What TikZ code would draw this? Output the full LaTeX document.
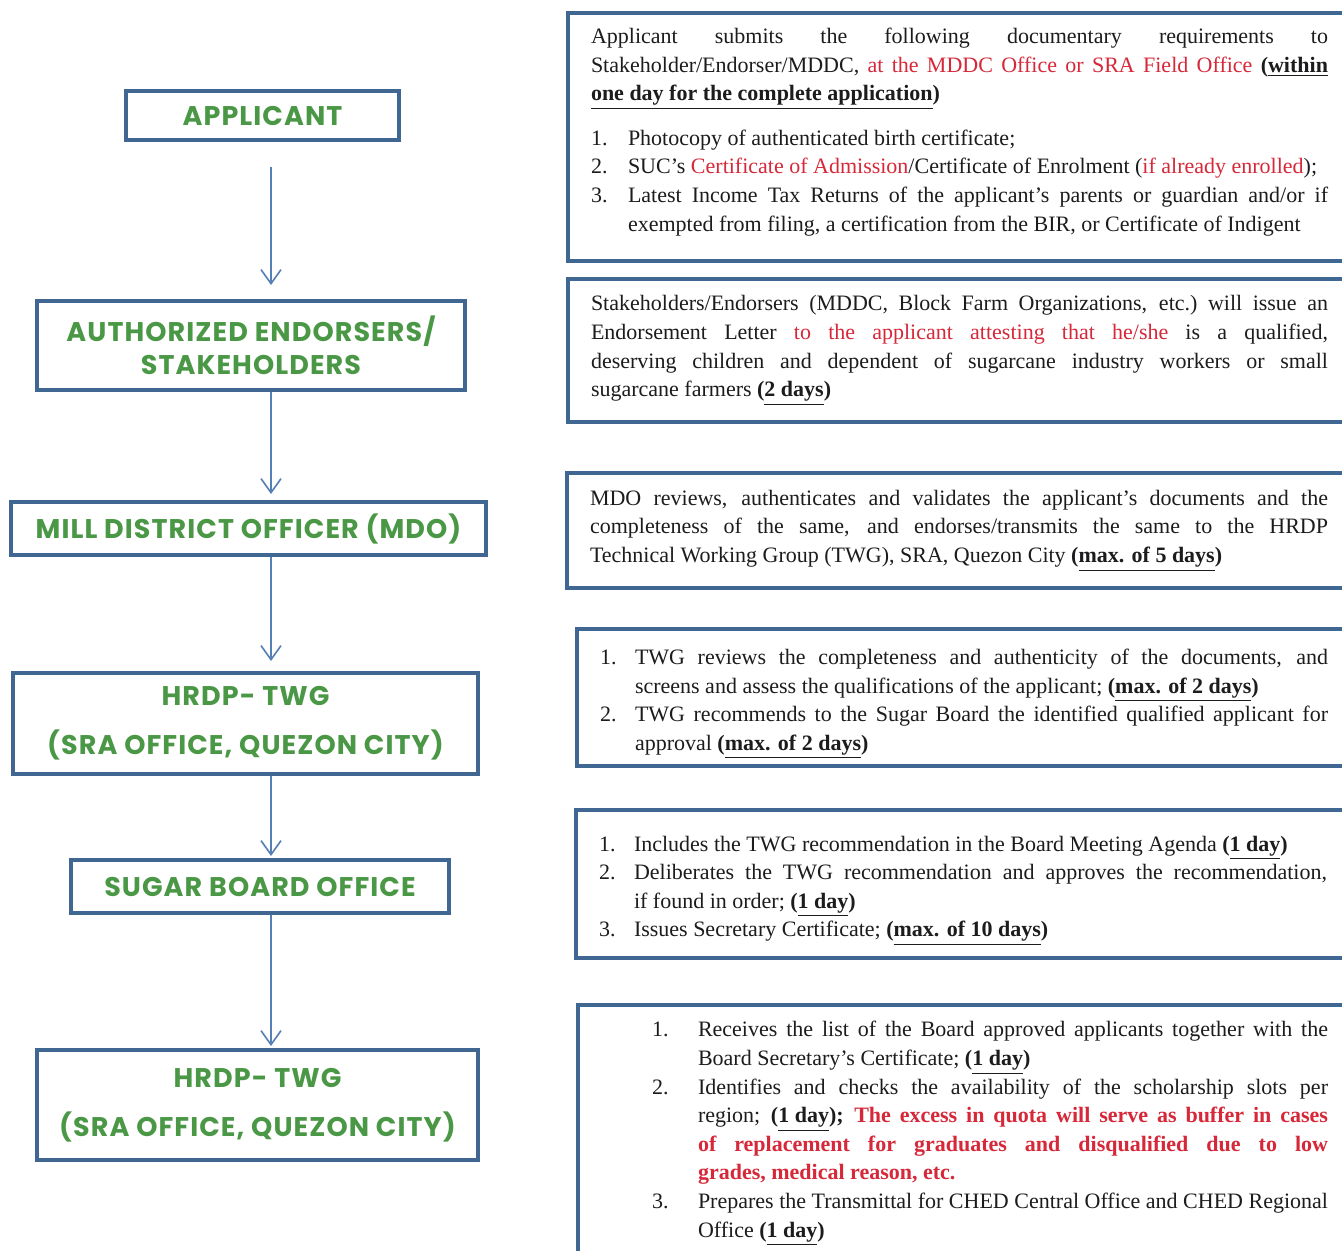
\documentclass[tikz,border=0pt]{standalone}
\usepackage{fontspec}
\usepackage{enumitem}
\setmainfont{Liberation Serif}
\newfontfamily\boxfont[LetterSpace=4]{Poppins}
\usetikzlibrary{arrows.meta, positioning, calc}
\definecolor{FrameBlue}{RGB}{ 63, 103, 145}
\definecolor{BoxGreen} {RGB}{ 74, 152,  70}
\definecolor{ArrowBlue}{RGB}{ 84, 128, 182}
\definecolor{NoteRed}  {RGB}{214,  40,  57}
\definecolor{InkBlack} {RGB}{ 28,  28,  30}
\setlist[enumerate]{label=\arabic*., align=left, labelsep=0pt,
  itemsep=0pt, parsep=0pt, topsep=0pt, partopsep=0pt}
\newcommand{\redtxt}[1]{\textcolor{NoteRed}{#1}}
\newcommand{\ulwords}[1]{\underline{#1}}
\newcommand{\due}[1]{\textbf{(\ulwords{#1})}}
\tikzset{
  % Office box in the left column
  office/.style={
    rectangle, draw=FrameBlue, line width=2pt, fill=white,
    font=\boxfont\bfseries\fontsize{13.5}{16.5}\selectfont, text=BoxGreen,
    align=center, inner sep=2pt
  },
  % Description panel in the right column
  notebox/.style={
    rectangle, draw=FrameBlue, line width=2pt, fill=white,
    anchor=north west, align=justify, text=InkBlack,
    font=\fontsize{11}{14.3}\selectfont,
    inner xsep=11.5pt, inner ysep=0pt, text width=#1
  },
  notebox/.default=368.5pt,
  % Flow arrows between offices
  flowarrow/.style={
    -{Straight Barb[length=7pt, width=10pt]}, line width=0.8pt, color=ArrowBlue
  }
}
\begin{document}
\begin{tikzpicture}[x=0.5pt, y=-0.5pt]
  \useasboundingbox[fill=white] (0,0) rectangle (1342,1251);

  % ── LEFT COLUMN: offices ───────────────────────────────────────────
  \node[office, minimum width=136.5pt, minimum height=24.5pt] (applicant)
        at (262.5,115.5) {APPLICANT};
  \node[office, minimum width=214pt, minimum height=44.5pt] (endorsers)
        at (251,345.5) {AUTHORIZED ENDORSERS/\\STAKEHOLDERS};
  \node[office, minimum width=237.5pt, minimum height=26.5pt] (mdo)
        at (248.5,528.5) {MILL DISTRICT OFFICER (MDO)};
  \node[office, minimum width=232.5pt, minimum height=50.5pt] (twg_a)
        at (245.5,723.5) {HRDP- TWG\\[8pt](SRA OFFICE, QUEZON CITY)};
  \node[office, minimum width=189pt, minimum height=26.5pt] (board)
        at (260,886.5) {SUGAR BOARD OFFICE};
  \node[office, minimum width=220.5pt, minimum height=55pt] (twg_b)
        at (257.5,1105) {HRDP- TWG\\[8pt](SRA OFFICE, QUEZON CITY)};

  % ── ARROWS ─────────────────────────────────────────────────────────
  \coordinate (spine) at (271,0);
  \draw[flowarrow, shorten <=12.5pt, shorten >=7pt]
        (applicant.south -| spine) -- (endorsers.north -| spine);
  \draw[flowarrow, shorten >=3pt] (endorsers.south -| spine) -- (mdo.north -| spine);
  \draw[flowarrow, shorten >=5pt] (mdo.south -| spine) -- (twg_a.north -| spine);
  \draw[flowarrow, shorten >=1pt] (twg_a.south -| spine) -- (board.north -| spine);
  \draw[flowarrow, shorten >=1pt] (board.south -| spine) -- (twg_b.north -| spine);

  % ── RIGHT COLUMN: what each office does ────────────────────────────
  \node[notebox, minimum height=124pt] (note_applicant) at (566,11) {%
    Applicant submits the following documentary requirements to\linebreak
    Stakeholder/Endorser/MDDC, \redtxt{at the MDDC Office or SRA Field Office}
    \textbf{(\ulwords{within}}\linebreak
    \textbf{\ulwords{one day for the complete application})}
    \begin{enumerate}[leftmargin=18.5pt, labelwidth=18.5pt, topsep=8pt]
      \item Photocopy of authenticated birth certificate;
      \item SUC’s \redtxt{Certificate of Admission}/Certificate of Enrolment
            (\redtxt{if already enrolled});
      \item Latest Income Tax Returns of the applicant’s parents or guardian and/or if\linebreak
            exempted from filing, a certification from the BIR, or Certificate of Indigent
    \end{enumerate}\par\vspace{-3pt}};

  \node[notebox, minimum height=71.5pt] (note_endorsers) at (566,277) {%
    Stakeholders/Endorsers (MDDC, Block Farm Organizations, etc.)\ will issue an\linebreak
    Endorsement Letter \redtxt{to the applicant attesting that he/she} is a qualified,\linebreak
    deserving children and dependent of sugarcane industry workers or small\linebreak
    sugarcane farmers \due{2 days}};

  \node[notebox=369pt, minimum height=57.5pt] (note_mdo) at (565,471) {%
    MDO reviews, authenticates and validates the applicant’s documents and the\linebreak
    completeness of the same, and endorses/transmits the same to the HRDP\linebreak
    Technical Working Group (TWG), SRA, Quezon City \due{max. of 5 days}};

  \node[notebox=364pt, minimum height=68.5pt] (note_twg_a) at (575,627) {%
    \begin{enumerate}[leftmargin=17.5pt, labelwidth=17.5pt]
      \item TWG reviews the completeness and authenticity of the documents, and\linebreak
            screens and assess the qualifications of the applicant; \due{max. of 2 days}
      \item TWG recommends to the Sugar Board the identified qualified applicant for\linebreak
            approval \due{max. of 2 days}
    \end{enumerate}};

  \node[notebox=364pt, minimum height=74pt] (note_board) at (574,808) {%
    \begin{enumerate}[leftmargin=17.5pt, labelwidth=17.5pt]
      \item Includes the TWG recommendation in the Board Meeting Agenda \due{1 day}
      \item Deliberates the TWG recommendation and approves the recommendation,\linebreak
            if found in order; \due{1 day}
      \item Issues Secretary Certificate; \due{max. of 10 days}
    \end{enumerate}};

  \node[notebox=338pt, inner xsep=37pt, minimum height=130pt] (note_twg_b) at (576,1003) {%
    \begin{enumerate}[leftmargin=23pt, labelwidth=23pt]
      \item Receives the list of the Board approved applicants together with the\linebreak
            Board Secretary’s Certificate; \due{1 day}
      \item Identifies and checks the availability of the scholarship slots per\linebreak
            region; \due{1 day}\textbf{;}
            {\bfseries\color{NoteRed} The excess in quota will serve as buffer in cases\linebreak
            of replacement for graduates and disqualified due to low\linebreak
            grades, medical reason, etc.}
      \item Prepares the Transmittal for CHED Central Office and CHED Regional\linebreak
            Office \due{1 day}
    \end{enumerate}\par\vspace{8pt}};

\end{tikzpicture}
\end{document}
